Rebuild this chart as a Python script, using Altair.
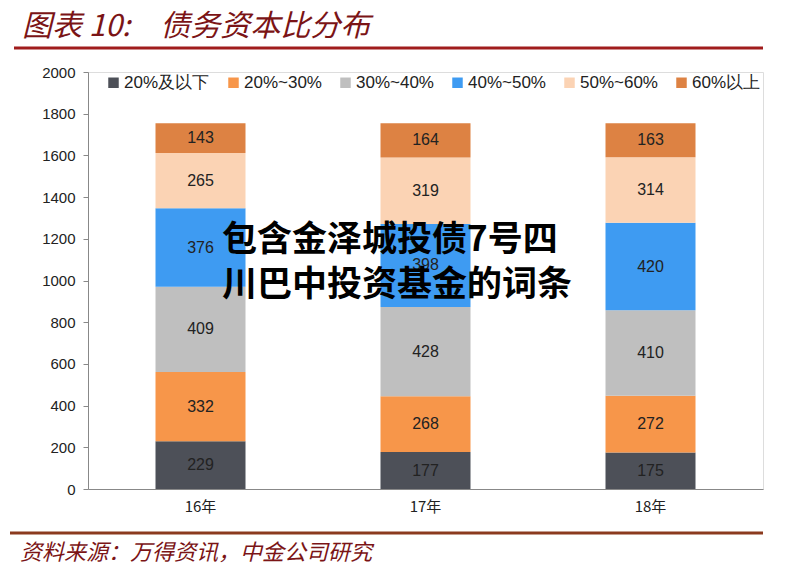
import altair as alt
import pandas as pd

years = ["16年", "17年", "18年"]
groups = ["20%及以下", "20%~30%", "30%~40%", "40%~50%", "50%~60%", "60%以上"]
colors = ["#4D5058", "#F7964A", "#BFBFBF", "#3E9BF2", "#FBD3B4", "#DD8243"]
v_16 = [229, 332, 409, 376, 265, 143]
v_17 = [177, 268, 428, 398, 319, 164]
v_18 = [175, 272, 410, 420, 314, 163]

rows = []
for y, vals in zip(years, [v_16, v_17, v_18]):
    for i, (g, v) in enumerate(zip(groups, vals)):
        rows.append({"year": y, "group": g, "value": v, "order": i})
df = pd.DataFrame(rows)

FONT = "Liberation Sans"
CJK = "Noto Sans CJK SC"

x_enc = alt.X("year:N", sort=years, title=None,
              scale=alt.Scale(paddingInner=0.6, paddingOuter=0.3),
              axis=alt.Axis(labelAngle=0, labelFontSize=15, labelColor="#222", labelFont=CJK,
                            ticks=False, domainColor="#888", labelPadding=10))
y_scale = alt.Scale(domain=[0, 2000])
y_enc = alt.Y("value:Q", stack="zero", title=None, scale=y_scale,
              axis=alt.Axis(values=list(range(0, 2001, 200)), format="d", grid=False, labelFontSize=15,
                            labelColor="#222", labelFont=FONT, domainColor="#888", tickColor="#888",
                            tickSize=5, labelPadding=8))

base = alt.Chart(df)

bars = base.mark_bar().encode(
    x=x_enc,
    y=y_enc,
    color=alt.Color("group:N", sort=groups,
                    scale=alt.Scale(domain=groups, range=colors),
                    legend=alt.Legend(title=None, orient="none", direction="horizontal", columns=6,
                                      legendX=17, legendY=2, labelFontSize=17, labelFont=FONT,
                                      labelColor="#222", symbolType="square", symbolSize=110,
                                      symbolStrokeWidth=0, columnPadding=15, labelOffset=2)),
    order=alt.Order("order:Q"),
)

labels = base.transform_window(
    cum="sum(value)", groupby=["year"], sort=[alt.SortField("order")]
).transform_calculate(
    mid="datum.cum - datum.value / 2"
).mark_text(fontSize=16, font=FONT, color="#222", baseline="middle").encode(
    x=alt.X("year:N", sort=years),
    y=alt.Y("mid:Q", scale=y_scale),
    text="value:Q",
)

title_df = pd.DataFrame({"t": ["图表 10:\u3000债务资本比分布"]})
title = alt.Chart(title_df).mark_text(align="left", baseline="alphabetic", fontSize=30,
                                      fontStyle="italic", font=CJK, color="#7B1416").encode(
    x=alt.value(-66), y=alt.value(-36), text="t:N")
top_line = alt.Chart(title_df).mark_rule(color="#A01C1C", strokeWidth=3).encode(
    x=alt.value(-74), x2=alt.value(675), y=alt.value(-24))
bottom_line = alt.Chart(title_df).mark_rule(color="#8B3A1E", strokeWidth=3).encode(
    x=alt.value(-78), x2=alt.value(675), y=alt.value(461))
src_df = pd.DataFrame({"t": ["资料来源：万得资讯，中金公司研究"]})
source = alt.Chart(src_df).mark_text(align="left", baseline="alphabetic", fontSize=22,
                                     fontStyle="italic", font=CJK, color="#7B1416").encode(
    x=alt.value(-68), y=alt.value(488), text="t:N")

ov1 = pd.DataFrame({"t": ["包含金泽城投债7号四"]})
ov2 = pd.DataFrame({"t": ["川巴中投资基金的词条"]})
overlay1 = alt.Chart(ov1).mark_text(align="left", baseline="middle", fontSize=35,
                                    fontWeight="bold", font=CJK, color="#000").encode(
    x=alt.value(134), y=alt.value(168), text="t:N")
overlay2 = alt.Chart(ov2).mark_text(align="left", baseline="middle", fontSize=35,
                                    fontWeight="bold", font=CJK, color="#000").encode(
    x=alt.value(134), y=alt.value(213), text="t:N")

chart = alt.layer(bars, labels, title, top_line, bottom_line, source, overlay1, overlay2).properties(
    width=675, height=417,
    autosize=alt.AutoSizeParams(type="none"),
    padding={"left": 88, "top": 72, "right": 28, "bottom": 84},
).configure_view(stroke=None).configure(background="white")

chart.save("out.html", embed_options={"renderer": "svg", "actions": False})
